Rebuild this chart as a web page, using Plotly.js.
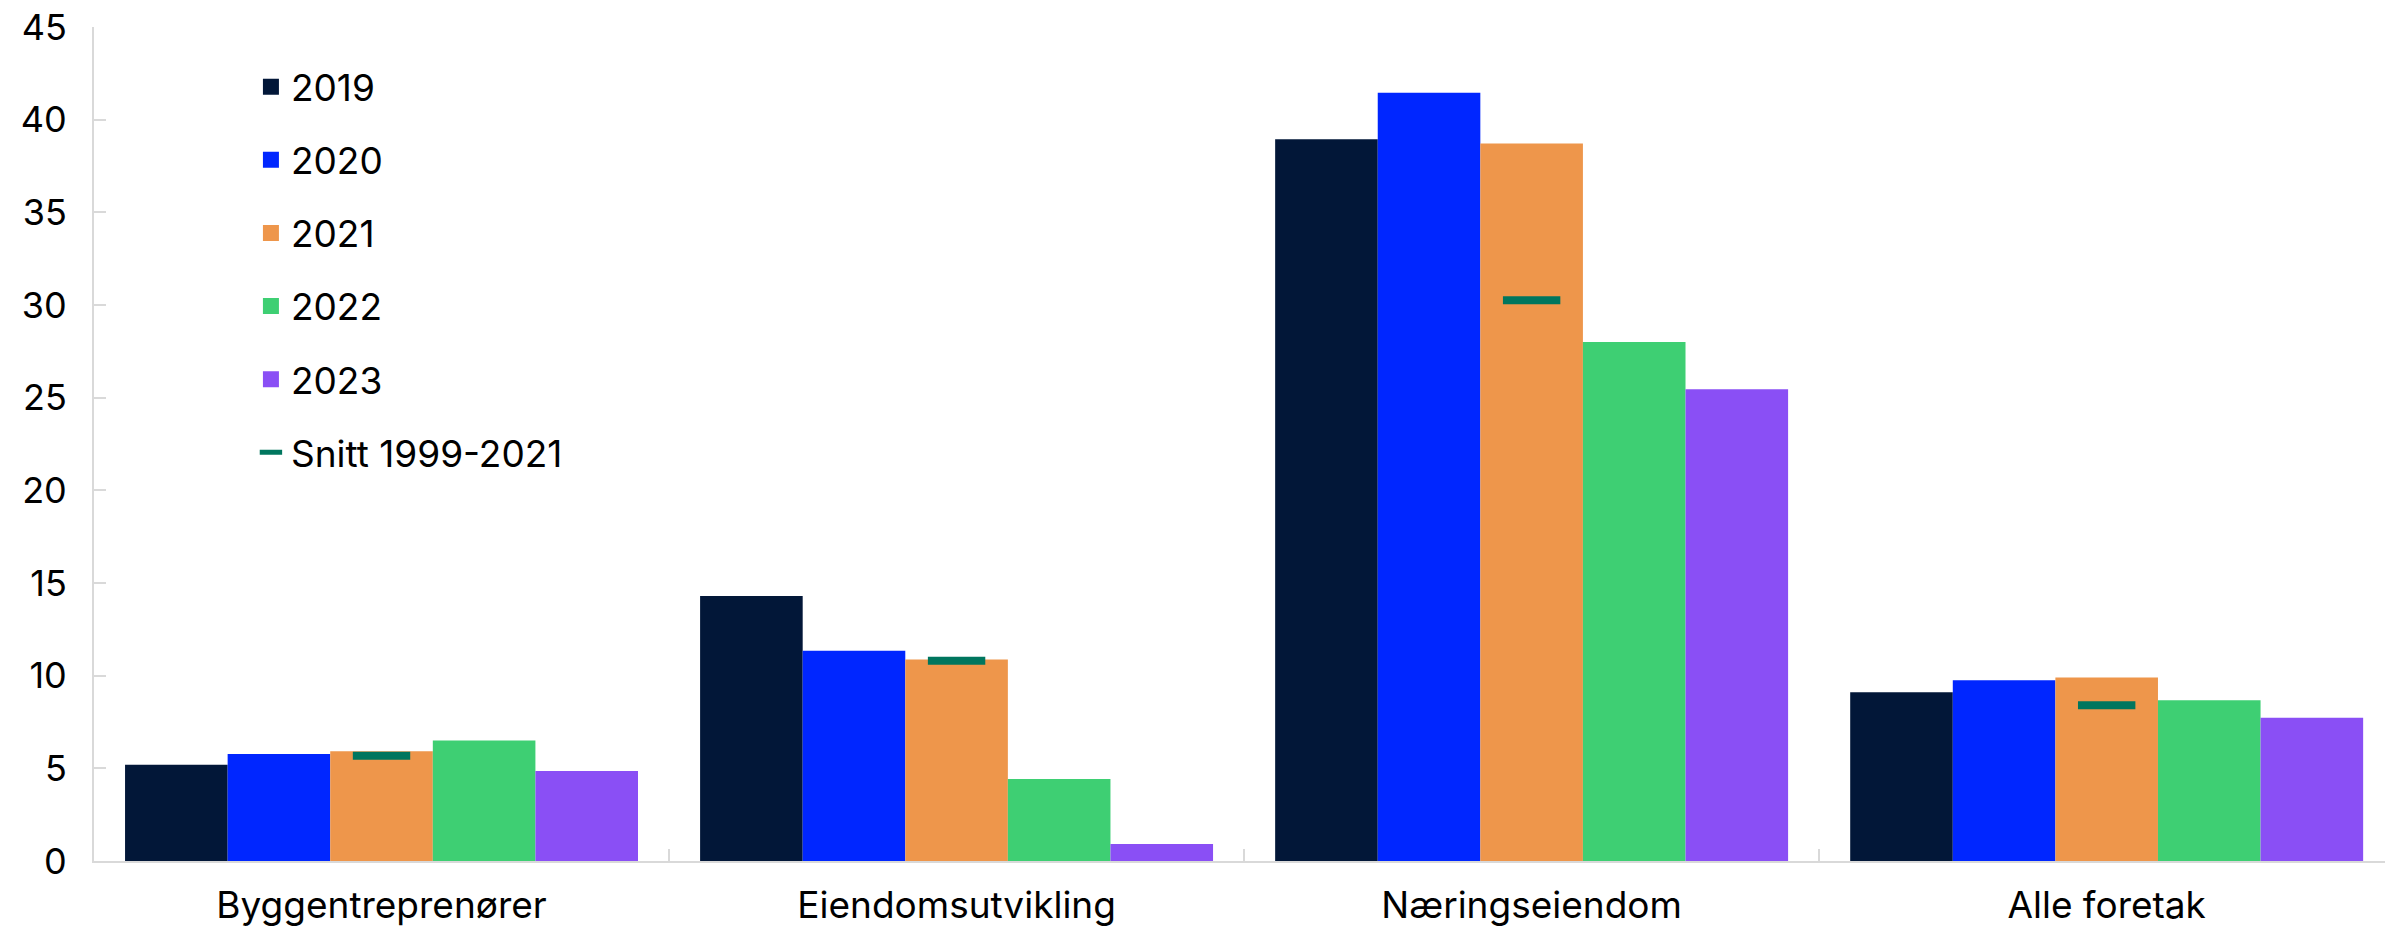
<!DOCTYPE html>
<html><head><meta charset="utf-8">
<script src="https://cdn.plot.ly/plotly-3.0.1.min.js"></script>
<style>html,body{margin:0;padding:0;background:#fff}</style>
</head><body><div id="chart" style="width:2385px;height:932px"></div>
<script>
const categories = ["Byggentreprenører","Eiendomsutvikling","Næringseiendom","Alle foretak"];
const seriesNames = ["2019","2020","2021","2022","2023"];
const v2019 = [5.2, 14.3, 38.95, 9.1];
const v2020 = [5.77, 11.35, 41.45, 9.75];
const v2021 = [5.92, 10.87, 38.72, 9.9];
const v2022 = [6.5, 4.43, 28.0, 8.68];
const v2023 = [4.85, 0.92, 25.45, 7.73];
const snittName = "Snitt 1999-2021";
const snitt = [5.68, 10.8, 30.25, 8.4];
const yTicks = [0,5,10,15,20,25,30,35,40,45];

const colors = ["#021738","#0026ff","#ee964b","#3ecf73","#8a4ff5"];
const snittColor = "#00765e";
const FONT = "Inter, 'Noto Sans', sans-serif";

const values = [v2019, v2020, v2021, v2022, v2023];
const traces = [];
values.forEach((vals, i) => {
  traces.push({
    type: "bar", x: categories, y: vals, name: seriesNames[i],
    marker: {color: colors[i], line: {width: 0}},
    showlegend: false, hoverinfo: "skip"
  });
});
// legend entries
values.forEach((vals, i) => {
  traces.push({
    type: "scatter", mode: "markers", x: [null], y: [null], name: seriesNames[i],
    marker: {symbol: "square", size: 16, color: colors[i]},
    legendgroup: "g" + i, showlegend: true, hoverinfo: "skip"
  });
});
traces.push({
  type: "scatter", mode: "markers", x: categories, y: snitt, name: snittName,
  marker: {symbol: "line-ew-open", size: 41, color: snittColor, line: {color: snittColor, width: 8}},
  legendgroup: "g5", showlegend: true, hoverinfo: "skip"
});

const layout = {
  width: 2385, height: 932,
  margin: {l: 94, r: 0, t: 27, b: 71},
  paper_bgcolor: "#fff", plot_bgcolor: "#fff",
  font: {family: FONT, size: 37, color: "#000"},
  barmode: "group", bargap: 0.108, bargroupgap: 0,
  showlegend: true,
  legend: {
    x: 0.0685, y: 0.965, xanchor: "left", yanchor: "top",
    bgcolor: "rgba(0,0,0,0)", font: {family: FONT, size: 37, color: "#000"},
    traceorder: "grouped", tracegroupgap: 22, itemwidth: 30
  },
  xaxis: {
    type: "category", range: [-0.5, 3.484], showgrid: false, zeroline: false,
    showline: true, linecolor: "#d9d9d9", linewidth: 2,
    ticks: "inside", tickson: "boundaries", ticklen: 12, tickcolor: "#d9d9d9", tickwidth: 2,
    tickfont: {family: FONT, size: 37, color: "#000"},
    ticklabelstandoff: 11
  },
  yaxis: {
    range: [0, 45], tickvals: yTicks, showgrid: false, zeroline: false,
    showline: true, linecolor: "#d9d9d9", linewidth: 2,
    ticks: "inside", ticklen: 12, tickcolor: "#d9d9d9", tickwidth: 2,
    tickfont: {family: FONT, size: 36, color: "#000"},
    ticklabelstandoff: 18
  },
  hovermode: false
};
Plotly.newPlot("chart", traces, layout, {displayModeBar: false, staticPlot: true});
</script></body></html>
